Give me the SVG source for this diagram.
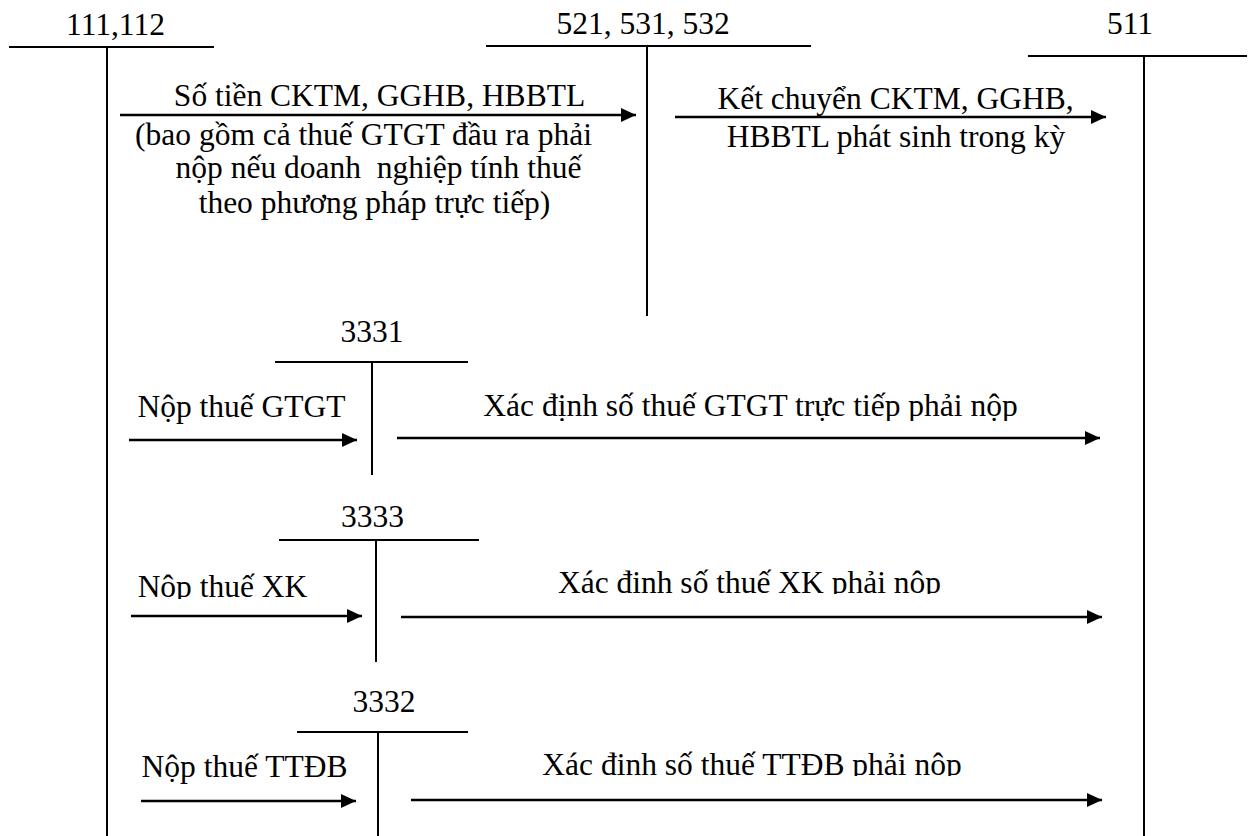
<svg xmlns="http://www.w3.org/2000/svg" width="1253" height="836" viewBox="0 0 1253 836">
<style>
text{font-family:"Liberation Serif","Times New Roman",serif;font-size:31.5px;fill:#000;text-anchor:middle;white-space:pre}
.t{stroke:#000;stroke-width:2;fill:none}
.a{stroke:#000;stroke-width:2.5;fill:none;marker-end:url(#ah)}
</style>
<defs>
<marker id="ah" markerUnits="userSpaceOnUse" markerWidth="16" markerHeight="16" refX="15" refY="7" orient="auto"><path d="M0,0 L15,7 L0,14 z" fill="#000"/></marker>
<clipPath id="c1"><rect x="0" y="370" width="1253" height="51"/></clipPath>
<clipPath id="c2"><rect x="0" y="550" width="1253" height="44"/></clipPath>
<clipPath id="c3"><rect x="0" y="730" width="1253" height="46"/></clipPath>
<clipPath id="c4"><rect x="0" y="560" width="1253" height="39"/></clipPath>
</defs>
<rect width="1253" height="836" fill="#fff"/>
<g id="acc-111-112">
<line class="t" x1="9" y1="47" x2="214" y2="47"/>
<line class="t" x1="107" y1="47" x2="107" y2="836"/>
<text x="115.5" y="35">111,112</text>
</g>
<g id="acc-521-531-532">
<line class="t" x1="486" y1="46" x2="811" y2="46"/>
<line class="t" x1="647" y1="46" x2="647" y2="316"/>
<text x="643" y="34">521, 531, 532</text>
</g>
<g id="acc-511">
<line class="t" x1="1028" y1="56" x2="1247" y2="56"/>
<line class="t" x1="1144" y1="56" x2="1144" y2="836"/>
<text x="1130" y="34">511</text>
</g>
<g id="acc-3331">
<line class="t" x1="275" y1="362" x2="468" y2="362"/>
<line class="t" x1="372" y1="362" x2="372" y2="475"/>
<text x="372" y="342">3331</text>
</g>
<g id="acc-3333">
<line class="t" x1="279" y1="540" x2="479" y2="540"/>
<line class="t" x1="376" y1="540" x2="376" y2="662"/>
<text x="372.5" y="527">3333</text>
</g>
<g id="acc-3332">
<line class="t" x1="297" y1="732" x2="468" y2="732"/>
<line class="t" x1="378" y1="732" x2="378" y2="836"/>
<text x="384" y="712">3332</text>
</g>
<g id="connectors">
<line class="a" x1="120" y1="115" x2="636" y2="115"/>
<line class="a" x1="675" y1="117" x2="1106" y2="117"/>
<line class="a" x1="129" y1="440" x2="357" y2="440"/>
<line class="a" x1="397" y1="438" x2="1100" y2="438"/>
<line class="a" x1="131" y1="616" x2="362" y2="616"/>
<line class="a" x1="401" y1="617" x2="1102" y2="617"/>
<line class="a" x1="141" y1="801" x2="356" y2="801"/>
<line class="a" x1="411" y1="800" x2="1102" y2="800"/>
</g>
<g id="labels">
<text x="379.5" y="106">Số tiền CKTM, GGHB, HBBTL</text>
<text x="363.5" y="145">(bao gồm cả thuế GTGT đầu ra phải</text>
<text x="378.5" y="178" xml:space="preserve">nộp nếu doanh  nghiệp tính thuế</text>
<text x="374.5" y="213">theo phương pháp trực tiếp)</text>
<text x="895.5" y="109">Kết chuyển CKTM, GGHB,</text>
<text x="896" y="147">HBBTL phát sinh trong kỳ</text>
<text x="241.5" y="417">Nộp thuế GTGT</text>
<text x="750.5" y="416" clip-path="url(#c1)">Xác định số thuế GTGT trực tiếp phải nộp</text>
<text x="222.5" y="597" clip-path="url(#c4)">Nộp thuế XK</text>
<text x="749.5" y="593" clip-path="url(#c2)">Xác định số thuế XK phải nộp</text>
<text x="244.5" y="777">Nộp thuế TTĐB</text>
<text x="752" y="775" clip-path="url(#c3)">Xác định số thuế TTĐB phải nộp</text>
</g>
</svg>
